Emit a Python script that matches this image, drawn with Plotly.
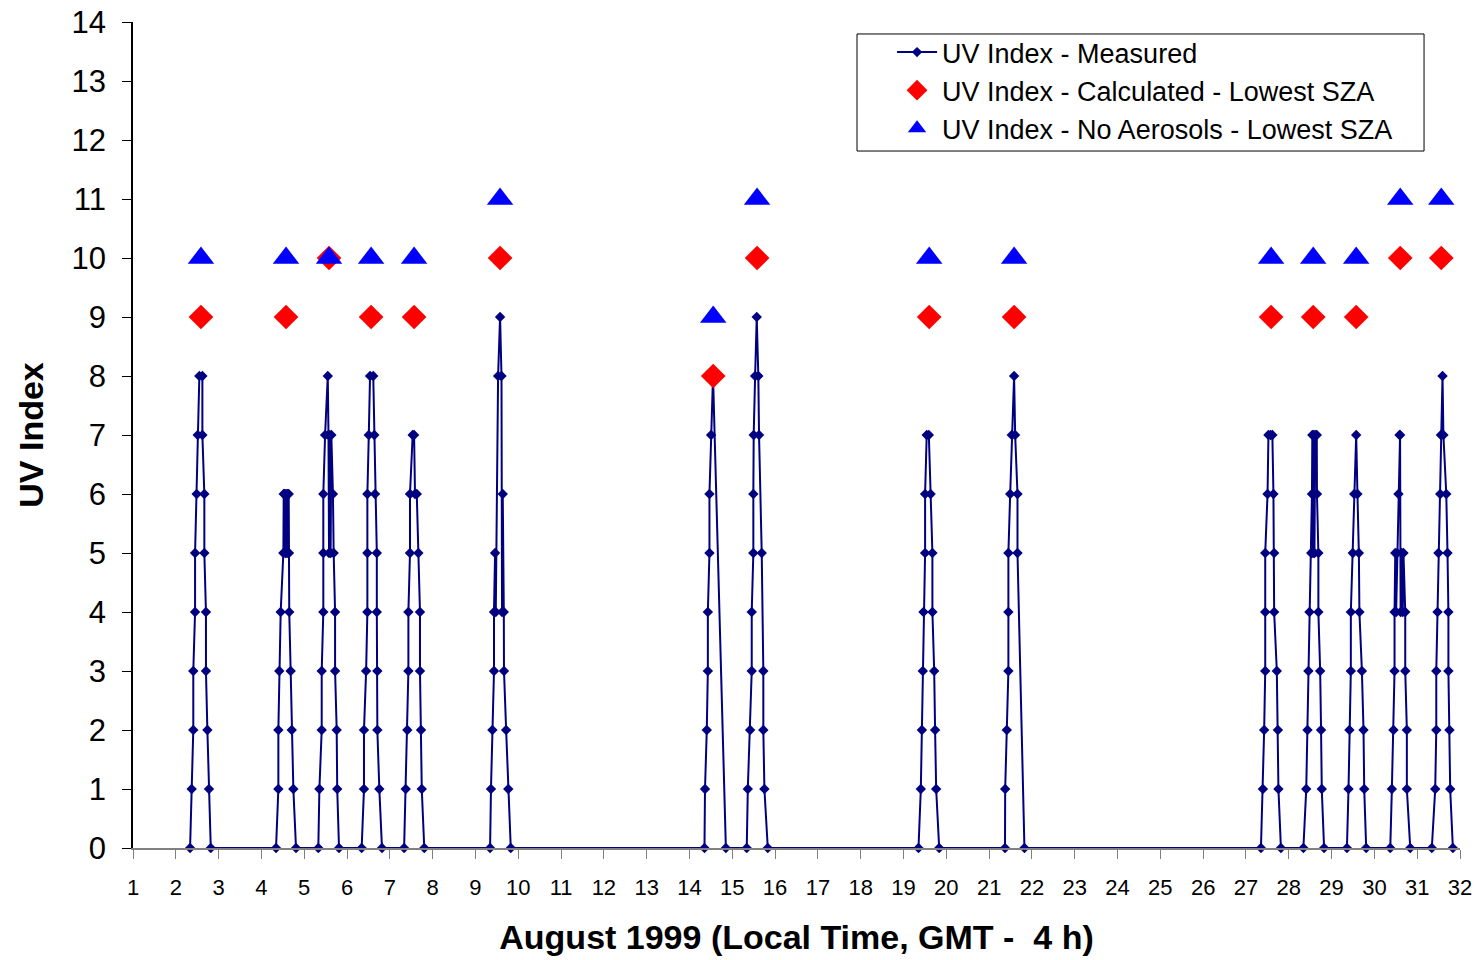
import plotly.graph_objects as go

# ---- Measured UV index: local hour of day and UV value, per day (August 1999) ----
day02_h = [8.0, 8.9, 9.8, 9.8, 10.8, 10.8, 11.7, 12.3, 13.2, 14.9, 14.9, 16.0, 16.0, 16.9, 16.9, 17.7, 18.6, 19.6]
day02_uv = [0, 1, 2, 3, 4, 5, 6, 7, 8, 8, 7, 6, 5, 4, 3, 2, 1, 0]

day04_h = [8.2, 9.5, 9.5, 10.0, 10.8, 12.3, 12.5, 13.0, 13.4, 13.8, 14.3, 14.7, 15.1, 15.3, 15.4, 15.6, 16.4, 17.0, 17.9, 19.4]
day04_uv = [0, 1, 2, 3, 4, 5, 6, 6, 5, 6, 5, 6, 5, 6, 5, 4, 3, 2, 1, 0]

day05_h = [7.9, 8.5, 9.8, 9.8, 10.7, 10.7, 10.7, 11.7, 13.2, 13.6, 13.9, 14.3, 14.8, 15.2, 16.1, 16.5, 17.3, 17.3, 18.2, 18.5, 19.5]
day05_uv = [0, 1, 2, 3, 4, 5, 6, 7, 8, 7, 5, 7, 5, 7, 6, 5, 4, 3, 2, 1, 0]

day06_h = [8.2, 9.5, 9.5, 10.7, 11.4, 11.4, 11.4, 12.2, 12.9, 14.7, 15.3, 15.7, 16.7, 16.7, 17.0, 17.0, 18.1, 19.6]
day06_uv = [0, 1, 2, 3, 4, 5, 6, 7, 8, 8, 7, 6, 5, 4, 3, 2, 1, 0]

day07_h = [8.0, 8.9, 9.8, 10.4, 10.4, 11.3, 11.3, 12.8, 13.6, 14.1, 15.1, 16.0, 16.9, 16.9, 17.5, 17.9, 19.3]
day07_uv = [0, 1, 2, 3, 4, 5, 6, 7, 7, 6, 6, 5, 4, 3, 2, 1, 0]

day09_h = [8.2, 8.7, 9.5, 10.4, 10.4, 11.0, 11.4, 12.7, 13.8, 14.6, 14.9, 15.3, 15.9, 16.0, 17.2, 18.4, 19.8]
day09_uv = [0, 1, 2, 3, 4, 5, 4, 8, 9, 8, 4, 6, 4, 3, 2, 1, 0]

day14_h = [8.4, 8.7, 9.7, 10.3, 10.3, 11.2, 11.2, 12.1, 13.2, 20.4]
day14_uv = [0, 1, 2, 3, 4, 5, 6, 7, 8, 0]

day15_h = [8.1, 8.7, 10.0, 10.9, 10.9, 11.8, 11.8, 12.0, 12.8, 13.7, 14.6, 15.0, 16.5, 17.4, 17.4, 18.0, 19.9]
day15_uv = [0, 1, 2, 3, 4, 5, 6, 7, 8, 9, 8, 7, 5, 3, 2, 1, 0]

day19_h = [8.4, 9.7, 10.3, 10.8, 11.2, 12.1, 12.1, 13.0, 14.2, 15.2, 16.2, 16.2, 17.2, 17.7, 18.3, 20.0]
day19_uv = [0, 1, 2, 3, 4, 5, 6, 7, 7, 6, 5, 4, 3, 2, 1, 0]

day21_h = [8.9, 9.0, 9.9, 10.8, 10.8, 10.8, 11.8, 12.7, 14.0, 14.6, 15.9, 15.9, 19.8]
day21_uv = [0, 1, 2, 3, 4, 5, 6, 7, 8, 7, 6, 5, 0]

day27_h = [8.4, 9.5, 10.2, 10.8, 10.8, 10.8, 12.1, 12.6, 13.8, 14.8, 15.4, 15.8, 15.8, 17.3, 17.9, 18.2, 19.6]
day27_uv = [0, 1, 2, 3, 4, 5, 6, 7, 7, 7, 6, 5, 4, 3, 2, 1, 0]

day28_h = [8.2, 9.8, 10.5, 11.0, 11.6, 12.6, 13.0, 13.2, 13.6, 14.0, 14.4, 14.8, 15.7, 15.8, 16.6, 16.6, 17.6, 18.1, 18.5, 19.8]
day28_uv = [0, 1, 2, 3, 4, 5, 6, 7, 5, 7, 5, 7, 7, 6, 5, 4, 3, 2, 1, 0]

day29_h = [8.6, 9.5, 10.0, 10.8, 10.8, 11.9, 12.7, 13.8, 14.5, 15.3, 15.6, 17.0, 17.9, 18.3, 19.4]
day29_uv = [0, 1, 2, 3, 4, 5, 6, 7, 6, 5, 4, 3, 2, 1, 0]

day30_h = [8.9, 9.8, 10.7, 11.3, 11.3, 11.7, 12.2, 12.8, 13.5, 14.1, 14.4, 14.7, 15.3, 15.9, 16.3, 17.3, 17.3, 18.2, 18.2, 20.1]
day30_uv = [0, 1, 2, 3, 4, 5, 4, 5, 6, 7, 7, 4, 5, 4, 5, 4, 3, 2, 1, 0]

day31_h = [8.2, 10.1, 10.7, 10.7, 11.4, 11.9, 12.9, 13.3, 14.2, 14.7, 16.3, 17.0, 17.5, 17.5, 18.1, 18.5, 20.0]
day31_uv = [0, 1, 2, 3, 4, 5, 6, 7, 8, 7, 6, 5, 4, 3, 2, 1, 0]

measured_days = [
    (2, day02_h, day02_uv), (4, day04_h, day04_uv), (5, day05_h, day05_uv),
    (6, day06_h, day06_uv), (7, day07_h, day07_uv), (9, day09_h, day09_uv),
    (14, day14_h, day14_uv), (15, day15_h, day15_uv), (19, day19_h, day19_uv),
    (21, day21_h, day21_uv), (27, day27_h, day27_uv), (28, day28_h, day28_uv),
    (29, day29_h, day29_uv), (30, day30_h, day30_uv), (31, day31_h, day31_uv),
]

# ---- Model values at lowest solar zenith angle ----
peak_days = [2, 4, 5, 6, 7, 9, 14, 15, 19, 21, 27, 28, 29, 30, 31]
peak_hours = [14.1, 13.8, 13.9, 13.5, 13.6, 13.8, 13.3, 13.9, 14.4, 14.0, 14.1, 13.7, 13.8, 14.5, 13.5]
uv_calculated = [9, 9, 10, 9, 9, 10, 8, 10, 9, 9, 9, 9, 9, 10, 10]
uv_no_aerosols = [10, 10, 10, 10, 10, 11, 9, 11, 10, 10, 10, 10, 10, 11, 11]

x_ticks = list(range(1, 33))
y_ticks = list(range(0, 15))

meas_x, meas_y = [], []
for d, hrs, vals in measured_days:
    meas_x += [d + h / 24.0 for h in hrs]
    meas_y += vals
peak_x = [d + h / 24.0 for d, h in zip(peak_days, peak_hours)]

FONT = "Liberation Sans, Arial, sans-serif"

fig = go.Figure()
fig.add_trace(go.Scatter(
    x=meas_x, y=meas_y, mode="lines+markers", name="UV Index - Measured",
    line=dict(color="#000080", width=2),
    marker=dict(symbol="diamond", size=8, color="#000080"),
    cliponaxis=False,
))
fig.add_trace(go.Scatter(
    x=peak_x, y=uv_calculated, mode="markers", name="UV Index - Calculated - Lowest SZA",
    marker=dict(symbol="diamond", size=19, color="#FF0000"),
    cliponaxis=False,
))
fig.add_trace(go.Scatter(
    x=peak_x, y=uv_no_aerosols, mode="markers", name="UV Index - No Aerosols - Lowest SZA",
    marker=dict(symbol="triangle-up", size=23, color="#0000FF"),
    cliponaxis=False,
))

fig.update_layout(
    width=1482, height=960,
    margin=dict(l=133, r=22, t=22, b=112),
    paper_bgcolor="white", plot_bgcolor="white",
    font=dict(family=FONT, color="black"),
    showlegend=True,
    legend=dict(
        x=0.572, y=0.9927, xanchor="left", yanchor="top",
        bgcolor="rgba(0,0,0,0)", borderwidth=0,
        font=dict(size=27, family=FONT, color="black"),
        tracegroupgap=0, itemwidth=40,
    ),
    shapes=[dict(
        type="rect", xref="paper", yref="paper",
        x0=0.5456, x1=0.9729, y0=0.8438, y1=0.9855,
        line=dict(color="black", width=1), fillcolor="rgba(0,0,0,0)", layer="above",
    )],
    xaxis=dict(
        range=[1, 32], tickmode="array", tickvals=x_ticks, ticktext=[str(t) for t in x_ticks],
        showgrid=False, zeroline=False, showline=True, linecolor="#808080", linewidth=1.5,
        ticks="outside", ticklen=9, tickcolor="#808080", tickwidth=1,
        tickfont=dict(size=22, family=FONT, color="black"),
        ticklabelstandoff=10,
        title=dict(text="<b>August 1999 (Local Time, GMT - \u00a04 h)</b>",
                   font=dict(size=34, family=FONT, color="black"), standoff=26),
        automargin=False,
    ),
    yaxis=dict(
        range=[0, 14], tickmode="array", tickvals=y_ticks, ticktext=[str(t) for t in y_ticks],
        showgrid=False, zeroline=False, showline=True, linecolor="black", linewidth=1.5,
        ticks="outside", ticklen=9, tickcolor="black", tickwidth=1,
        tickfont=dict(size=31, family=FONT, color="black"),
        ticklabelstandoff=10,
        title=dict(text="<b>UV Index</b>", font=dict(size=34, family=FONT, color="black"), standoff=18),
        automargin=False,
    ),
)

fig.write_html("out.html")
